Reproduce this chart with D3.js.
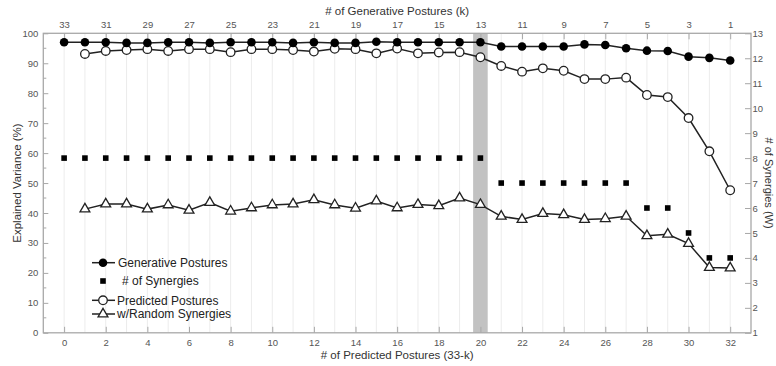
<!DOCTYPE html>
<html><head><meta charset="utf-8">
<script src="https://cdn.jsdelivr.net/npm/d3@7"></script>
<style>
html,body{margin:0;padding:0;background:#fff;}
svg{display:block;font-family:"Liberation Sans",Arial,sans-serif;}
</style></head>
<body>
<svg id="chart" width="776" height="366"></svg>
<script>
// ---- data ----
const xGenerative = d3.range(0, 33);
const generativeVals = [97.0,97.0,97.0,96.8,96.8,97.0,97.0,96.8,97.0,97.0,97.0,96.8,97.0,96.8,96.8,97.2,97.0,97.0,97.0,97.0,97.0,95.6,95.6,95.6,95.6,96.3,96.1,95.0,94.2,94.1,92.2,91.8,90.9];
const xPredicted = d3.range(1, 33);
const predictedVals = [93.1,94.1,94.4,94.7,94.1,94.7,94.7,93.7,94.7,94.7,94.4,93.9,94.8,94.7,93.3,94.9,93.3,93.6,93.7,92.0,89.1,87.2,88.3,87.5,84.7,84.7,85.2,79.4,78.7,71.7,60.6,47.6];
const randomVals = [41.3,43.0,43.0,41.3,42.7,40.9,43.5,40.6,41.7,42.7,43.0,44.4,42.7,41.6,44.0,41.7,42.8,42.4,45.0,42.8,38.9,37.8,39.8,39.4,37.8,38.1,38.9,32.4,32.9,29.8,21.8,21.6];
const synergyVals = [8,8,8,8,8,8,8,8,8,8,8,8,8,8,8,8,8,8,8,8,8,7,7,7,7,7,7,7,6,6,5,4,4];
const bottomTicks = d3.range(0, 33, 2);
const topTickLabels = [33,31,29,27,25,23,21,19,17,15,13,11,9,7,5,3,1];
const leftTicks = [0,10,20,30,40,50,60,70,80,90,100];
const rightTicks = d3.range(1, 14);
const highlightX = 20;
const legendLabels = ["Generative Postures", "# of Synergies", "Predicted Postures", "w/Random Synergies"];

// ---- layout ----
const svg = d3.select("#chart");
const L = 43.3, R = 751, T = 33.3, B = 332.8;
const x = d3.scaleLinear().domain([-1, 33]).range([L, R]);
const y = d3.scaleLinear().domain([0, 100]).range([B, T]);
const yR = d3.scaleLinear().domain([1, 13]).range([B, T]);
const frame = "#a8a8a8", tickTxt = "#555", lineCol = "#222";

// gridlines
svg.append("g").selectAll("line").data(d3.range(0, 33)).join("line")
  .attr("x1", d => x(d)).attr("x2", d => x(d)).attr("y1", T).attr("y2", B)
  .attr("stroke", "#ececec").attr("stroke-width", 1);

// highlight band
svg.append("rect").attr("x", x(highlightX - 0.35)).attr("y", T)
  .attr("width", x(highlightX + 0.35) - x(highlightX - 0.35)).attr("height", B - T)
  .attr("fill", "#c2c2c2");

// axes
const axB = d3.axisBottom(x).tickValues(bottomTicks).tickSize(-6).tickPadding(6);
const axT = d3.axisTop(x).tickValues(bottomTicks).tickFormat((d, i) => topTickLabels[i]).tickSize(-6).tickPadding(5);
const axL = d3.axisLeft(y).tickValues(leftTicks).tickSize(-5).tickPadding(5);
const axR = d3.axisRight(yR).tickValues(rightTicks).tickSize(-6).tickPadding(1.5);
function style(g) {
  g.select(".domain").remove();
  g.selectAll(".tick line").attr("stroke", frame);
  g.selectAll(".tick text").attr("fill", tickTxt).attr("font-size", 9.5)
    .attr("font-family", "\"Liberation Sans\",Arial,sans-serif");
}
svg.append("g").attr("transform", `translate(0,${B})`).call(axB).call(style);
svg.append("g").attr("transform", `translate(0,${T})`).call(axT).call(style);
svg.append("g").attr("transform", `translate(${L},0)`).call(axL).call(style);
svg.append("g").attr("transform", `translate(${R},0)`).call(axR).call(style);
// minor left ticks
svg.append("g").selectAll("line").data(d3.range(5, 100, 10)).join("line")
  .attr("x1", L).attr("x2", L + 3).attr("y1", d => y(d)).attr("y2", d => y(d))
  .attr("stroke", frame);
// frame
svg.append("rect").attr("x", L).attr("y", T).attr("width", R - L).attr("height", B - T)
  .attr("fill", "none").attr("stroke", frame).attr("stroke-width", 1.3);

// lines
const gen = xGenerative.map((d, i) => [d, generativeVals[i]]);
const pred = xPredicted.map((d, i) => [d, predictedVals[i]]);
const rnd = xPredicted.map((d, i) => [d, randomVals[i]]);
const syn = xGenerative.map((d, i) => [d, synergyVals[i]]);
const line = d3.line().x(d => x(d[0])).y(d => y(d[1]));
[rnd, pred, gen].forEach(data => {
  svg.append("path").datum(data).attr("d", line).attr("fill", "none")
    .attr("stroke", lineCol).attr("stroke-width", 1.5);
});
const tri = d3.symbol().type(d3.symbolTriangle).size(42);
svg.append("g").selectAll("path").data(rnd).join("path")
  .attr("d", tri).attr("transform", d => `translate(${x(d[0])},${y(d[1])})`)
  .attr("fill", "#fff").attr("stroke", lineCol).attr("stroke-width", 1.3);
svg.append("g").selectAll("circle").data(pred).join("circle")
  .attr("cx", d => x(d[0])).attr("cy", d => y(d[1])).attr("r", 4.3)
  .attr("fill", "#fff").attr("stroke", lineCol).attr("stroke-width", 1.3);
svg.append("g").selectAll("circle").data(gen).join("circle")
  .attr("cx", d => x(d[0])).attr("cy", d => y(d[1])).attr("r", 4.3)
  .attr("fill", "#000");
svg.append("g").selectAll("rect").data(syn).join("rect")
  .attr("x", d => x(d[0]) - 2.8).attr("y", d => yR(d[1]) - 2.8)
  .attr("width", 5.6).attr("height", 5.6).attr("fill", "#000");

// axis titles
svg.append("text").attr("x", (L + R) / 2).attr("y", 15).attr("text-anchor", "middle")
  .attr("font-size", 11.5).attr("fill", "#333").text("# of Generative Postures (k)");
svg.append("text").attr("x", (L + R) / 2).attr("y", 359).attr("text-anchor", "middle")
  .attr("font-size", 11.5).attr("fill", "#333").text("# of Predicted Postures (33-k)");
svg.append("text").attr("transform", `translate(21,${(T + B) / 2}) rotate(-90)`)
  .attr("text-anchor", "middle").attr("font-size", 11.5).attr("fill", "#333").text("Explained Variance (%)");
svg.append("text").attr("transform", `translate(765,${(T + B) / 2}) rotate(90)`)
  .attr("text-anchor", "middle").attr("font-size", 11).attr("fill", "#333").text("# of Synergies (W)");

// legend
const lg = svg.append("g");
const legY = [262.7, 281, 300.3, 314];
const lx1 = 92, lx2 = 115, mx = 103;
[0, 2, 3].forEach(i => {
  lg.append("line").attr("x1", lx1).attr("x2", lx2).attr("y1", legY[i]).attr("y2", legY[i])
    .attr("stroke", lineCol).attr("stroke-width", 1.5);
});
lg.append("circle").attr("cx", mx).attr("cy", legY[0]).attr("r", 4.3).attr("fill", "#000");
lg.append("rect").attr("x", mx - 2.8).attr("y", legY[1] - 2.8).attr("width", 5.6).attr("height", 5.6).attr("fill", "#000");
lg.append("circle").attr("cx", mx).attr("cy", legY[2]).attr("r", 4.3).attr("fill", "#fff").attr("stroke", lineCol).attr("stroke-width", 1.3);
lg.append("path").attr("d", tri).attr("transform", `translate(${mx},${legY[3]})`)
  .attr("fill", "#fff").attr("stroke", lineCol).attr("stroke-width", 1.3);
const legTx = [118, 122, 117, 117];
legendLabels.forEach((t, i) => {
  lg.append("text").attr("x", legTx[i]).attr("y", legY[i]).attr("dy", "0.35em")
    .attr("font-size", 12).attr("fill", "#222").text(t);
});
</script>
</body></html>
